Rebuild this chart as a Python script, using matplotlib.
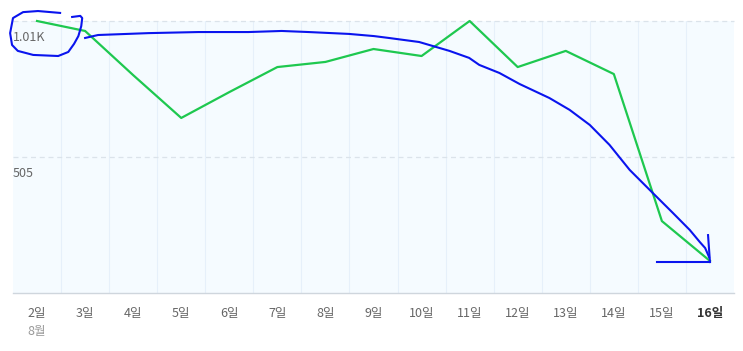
import matplotlib
matplotlib.use("Agg")
import matplotlib.pyplot as plt
import matplotlib.transforms as mtransforms

plt.rcParams["font.family"] = ["Noto Sans CJK KR", "DejaVu Sans"]

# ---- data ----
days = ["2일", "3일", "4일", "5일", "6일", "7일", "8일", "9일", "10일",
        "11일", "12일", "13일", "14일", "15일", "16일"]
views = [1010, 973, 809, 650, 746, 839, 858, 906, 880,
         1010, 839, 899, 813, 267, 119]
y_ticks = [505, 1010]
y_tick_labels = ["505", "1.01K"]
month_label = "8월"

# hand-drawn blue marker strokes (x = day index, y = value)
trend_x = [1.00, 1.27, 2.32, 3.36, 4.40, 5.09, 5.65, 6.49, 7.01, 7.32, 7.95,
           8.16, 8.58, 8.99, 9.20, 9.62, 10.04, 10.66, 11.08, 11.50, 11.91,
           12.33, 12.79, 13.23, 13.58, 13.79, 13.90, 13.98]
trend_y = [947, 958, 965, 969, 969, 973, 969, 962, 954, 947, 932,
           921, 899, 873, 847, 817, 776, 724, 680, 624, 550,
           457, 375, 297, 234, 189, 167, 134]
circle_x = [0.48, 0.02, -0.29, -0.50, -0.56, -0.52, -0.40, -0.08, 0.44,
            0.65, 0.77, 0.86, 0.92, 0.94, 0.90, 0.73]
circle_y = [1040, 1047, 1043, 1021, 965, 921, 899, 884, 880,
            895, 925, 954, 991, 1021, 1029, 1025]
arrow_v_x = [13.96, 14.00]
arrow_v_y = [215, 115]
arrow_h_x = [12.89, 14.00]
arrow_h_y = [115, 115]

W, H = 743, 351
fig = plt.figure(figsize=(W / 100, H / 100), dpi=100)
ax = fig.add_axes([13 / W, (H - 293) / H, (734 - 13) / W, (293 - 21) / H])
ax.set_facecolor("#f5fbff")
xs = list(range(len(days)))
ax.set_xlim(-0.5, len(days) - 0.5)
ax.set_ylim(0, max(y_ticks))

for s in ["top", "right", "left"]:
    ax.spines[s].set_visible(False)
ax.spines["bottom"].set_color("#cfd6dd")
ax.spines["bottom"].set_linewidth(1.0)
ax.set_yticks([])
ax.set_xticks([])

# band separators
for i in range(len(days) - 1):
    ax.axvline(i + 0.5, color="#e6f0fa", lw=0.8, zorder=1)
for v in y_ticks:
    ax.axhline(v, color="#dbe3ea", lw=0.9, ls=(0, (4, 3)), zorder=1, clip_on=False)

# y labels sit inside the plot, under their gridline
ytr = mtransforms.blended_transform_factory(ax.transAxes, ax.transData)
for v, lab in zip(y_ticks, y_tick_labels):
    ax.text(0.0, v - 36, lab, transform=ytr, ha="left", va="top", fontsize=9,
            color="#666666")

# x labels
xtr = mtransforms.blended_transform_factory(ax.transData, fig.transFigure)
for i, d in enumerate(days):
    last = i == len(days) - 1
    ax.text(i, (H - 313) / H, d, transform=xtr, ha="center", va="center",
            fontsize=9, color="#333333" if last else "#666666",
            fontweight="bold" if last else "normal")
ax.text(0, (H - 332) / H, month_label, transform=xtr, ha="center",
        va="center", fontsize=9, color="#999999")

ax.plot(xs, views, color="#1ec84f", lw=1.6, zorder=3, clip_on=False)

blue = "#0a14ee"
ax.plot(trend_x, trend_y, color=blue, lw=1.5, zorder=4, clip_on=False)
ax.plot(circle_x, circle_y, color=blue, lw=1.5, zorder=4, clip_on=False)
ax.plot(arrow_v_x, arrow_v_y, color=blue, lw=1.5, zorder=4, clip_on=False)
ax.plot(arrow_h_x, arrow_h_y, color=blue, lw=1.5, zorder=4, clip_on=False)

fig.savefig("out.png", dpi=100, facecolor="white")
